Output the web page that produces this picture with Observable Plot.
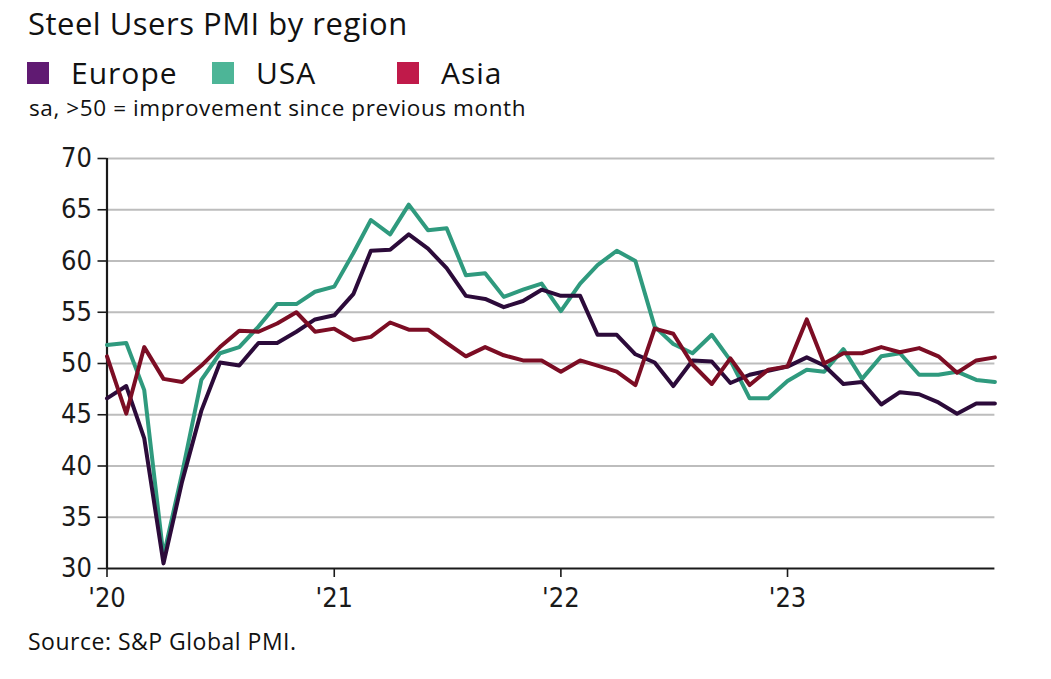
<!DOCTYPE html>
<html>
<head>
<meta charset="utf-8">
<script src="https://cdn.jsdelivr.net/npm/d3@7"></script>
<script src="https://cdn.jsdelivr.net/npm/@observablehq/plot@0.6"></script>
<style>
  html, body { margin: 0; padding: 0; background: #fff; }
  body { width: 1051px; height: 679px; position: relative; overflow: hidden; font-family: "Open Sans", "Liberation Sans", sans-serif; color: #111; }
  #title { position: absolute; left: 28px; top: 8px; font-size: 31px; letter-spacing: 0.5px; line-height: 1; white-space: nowrap; }
  #legend { position: absolute; left: 27px; top: 58px; display: flex; }
  .item { width: 185px; display: flex; align-items: center; font-size: 30px; letter-spacing: 1px; line-height: 1; }
  .sw { width: 22px; height: 22px; margin-right: 22px; }
  #subtitle { position: absolute; left: 29px; top: 97px; font-size: 22.5px; letter-spacing: 0.6px; line-height: 1; white-space: nowrap; }
  #chart { position: absolute; left: 0; top: 140px; }
  #source { position: absolute; left: 28px; top: 630px; font-size: 23px; letter-spacing: 0.5px; line-height: 1; white-space: nowrap; }
</style>
</head>
<body>
<div id="title">Steel Users PMI by region</div>
<div id="legend"></div>
<div id="subtitle">sa, &gt;50 = improvement since previous month</div>
<div id="chart"></div>
<div id="source">Source: S&amp;P Global PMI.</div>
<script>
// ---- data ----
const series = ["Europe", "USA", "Asia"];
const lineColors = ["#2c0b3a", "#2f9a7e", "#7c0d24"];
const legendColors = ["#601a72", "#4db597", "#c01a4a"];
const drawOrder = ["USA", "Europe", "Asia"];

const startMonth = "2020-01-01";
const endMonth = "2023-12-01";

const europe = [46.6, 47.8, 42.7, 30.5, 38.5, 45.4, 50.1, 49.8, 52.0, 52.0, 53.1, 54.3,
                54.7, 56.8, 61.0, 61.1, 62.6, 61.2, 59.3, 56.6, 56.3, 55.5, 56.1, 57.2,
                56.6, 56.6, 52.8, 52.8, 50.9, 50.1, 47.8, 50.3, 50.2, 48.1, 48.9, 49.3,
                49.7, 50.6, 49.8, 48.0, 48.2, 46.0, 47.2, 47.0, 46.2, 45.1, 46.1, 46.1];
const usa    = [51.8, 52.0, 47.4, 31.2, 39.3, 48.4, 51.0, 51.6, 53.6, 55.8, 55.8, 57.0,
                57.5, 60.8, 64.0, 62.6, 65.5, 63.0, 63.2, 58.6, 58.8, 56.5, 57.2, 57.8,
                55.1, 57.8, 59.6, 61.0, 60.0, 53.6, 51.9, 51.0, 52.8, 50.3, 46.6, 46.6,
                48.3, 49.4, 49.2, 51.4, 48.5, 50.7, 51.0, 48.9, 48.9, 49.2, 48.4, 48.2];
const asia   = [50.7, 45.1, 51.6, 48.5, 48.2, 49.8, 51.6, 53.2, 53.1, 53.9, 55.0, 53.1,
                53.4, 52.3, 52.6, 54.0, 53.3, 53.3, 52.0, 50.7, 51.6, 50.8, 50.3, 50.3,
                49.2, 50.3, 49.8, 49.2, 47.9, 53.4, 52.9, 49.9, 48.0, 50.5, 47.9, 49.4,
                49.7, 54.3, 50.0, 51.0, 51.0, 51.6, 51.1, 51.5, 50.7, 49.1, 50.3, 50.6];

const yTicks = [30, 35, 40, 45, 50, 55, 60, 65, 70];
const tickYears = [2020, 2021, 2022, 2023];
const tickLabels = ["'20", "'21", "'22", "'23"];

// ---- build ----
const months = d3.utcMonth.range(new Date(startMonth), d3.utcMonth.offset(new Date(endMonth), 1));
const valuesBySeries = { Europe: europe, USA: usa, Asia: asia };
const data = [];
for (const s of drawOrder) {
  valuesBySeries[s].forEach((v, i) => data.push({ series: s, date: months[i], value: v }));
}
const yearDates = tickYears.map(y => new Date(Date.UTC(y, 0, 1)));

// legend
const legend = document.getElementById("legend");
series.forEach((s, i) => {
  const it = document.createElement("div");
  it.className = "item";
  const sw = document.createElement("span");
  sw.className = "sw";
  sw.style.background = legendColors[i];
  it.appendChild(sw);
  it.appendChild(document.createTextNode(s));
  legend.appendChild(it);
});

const axisFont = "'Liberation Sans Narrow', 'Arial Narrow', 'DejaVu Sans Condensed', 'Liberation Sans', sans-serif";

const chart = Plot.plot({
  width: 1051,
  height: 480,
  marginTop: 18,
  marginBottom: 52,
  marginLeft: 106.5,
  marginRight: 56.6,
  style: { fontFamily: axisFont, fontSize: "27px", color: "#1a1a1a", background: "#fff", overflow: "visible" },
  x: { type: "utc", domain: [months[0], months[months.length - 1]] },
  y: { domain: [30, 70] },
  color: { domain: series, range: lineColors },
  marks: [
    Plot.gridY(yTicks.filter(t => t > 30), { stroke: "#bdbdbd", strokeOpacity: 1, strokeWidth: 1.8 }),
    Plot.axisY(yTicks, { tickSize: 9, tickPadding: 6, fontSize: 27, label: null, strokeWidth: 1.6 }),
    Plot.axisX(yearDates, {
      tickSize: 9, tickPadding: 10, fontSize: 27, label: null, strokeWidth: 1.6,
      tickFormat: d => tickLabels[tickYears.indexOf(d.getUTCFullYear())]
    }),
    Plot.ruleY([30], { stroke: "#1a1a1a", strokeWidth: 2.2 }),
    Plot.ruleX([months[0]], { stroke: "#1a1a1a", strokeWidth: 2.2 }),
    Plot.line(data, { x: "date", y: "value", z: "series", stroke: "series", strokeWidth: 4, strokeLinejoin: "round", strokeLinecap: "round" })
  ]
});
document.getElementById("chart").appendChild(chart);
</script>
</body>
</html>
